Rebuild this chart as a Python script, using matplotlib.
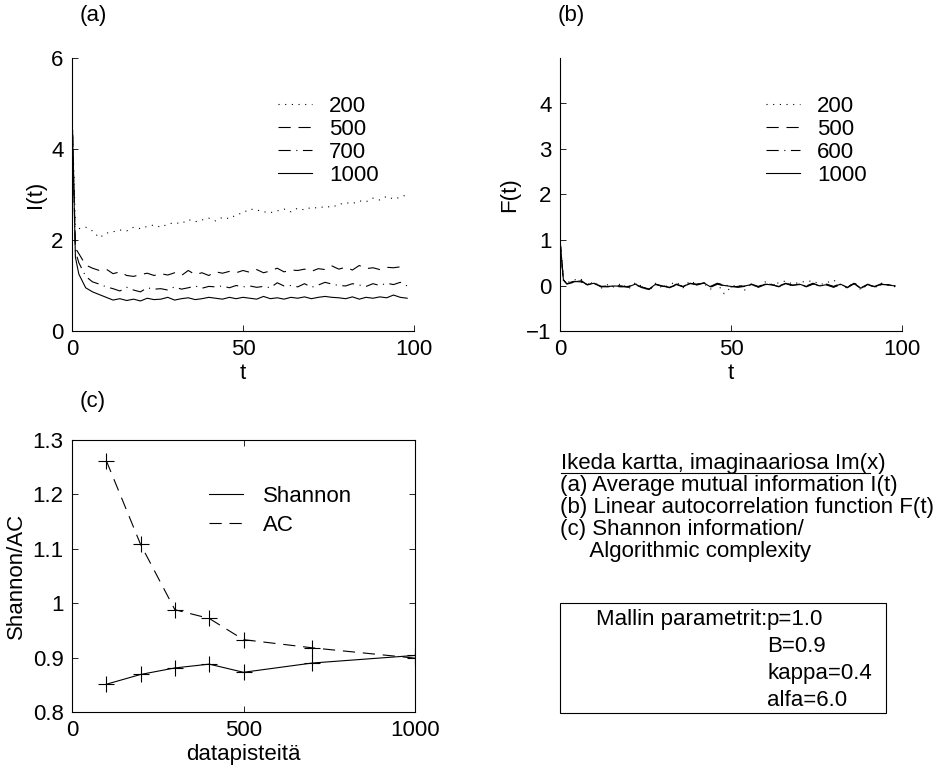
import matplotlib
matplotlib.use("Agg")
import matplotlib.pyplot as plt
from matplotlib.patches import Rectangle
from matplotlib.lines import Line2D

plt.rcParams["font.family"] = ["Liberation Sans", "DejaVu Sans"]
plt.rcParams["font.size"] = 16

# time axis of panels (a) and (b)
t = [0, 1] + list(range(2, 99, 2))

# (a) average mutual information I(t), by number of data points
ami_200 = [4.85, 2.32, 2.25, 2.28, 2.20, 2.05, 2.15, 2.18, 2.22, 2.20, 2.28, 2.25, 2.30,
           2.33, 2.28, 2.35, 2.38, 2.36, 2.45, 2.40, 2.44, 2.48, 2.42, 2.50, 2.47, 2.55,
           2.60, 2.68, 2.66, 2.62, 2.60, 2.64, 2.68, 2.62, 2.70, 2.66, 2.72, 2.70, 2.74,
           2.72, 2.78, 2.82, 2.80, 2.86, 2.84, 2.92, 2.88, 2.96, 2.90, 2.94, 3.00]
ami_500 = [4.85, 1.82, 1.70, 1.45, 1.38, 1.33, 1.36, 1.26, 1.30, 1.22, 1.20, 1.24, 1.27,
           1.22, 1.26, 1.23, 1.28, 1.22, 1.33, 1.24, 1.28, 1.22, 1.30, 1.27, 1.31, 1.28,
           1.33, 1.29, 1.35, 1.28, 1.32, 1.38, 1.30, 1.34, 1.33, 1.36, 1.31, 1.37, 1.35,
           1.43, 1.36, 1.40, 1.34, 1.44, 1.37, 1.39, 1.35, 1.40, 1.39, 1.41, 1.40]
ami_700 = [4.85, 1.75, 1.50, 1.20, 1.08, 1.03, 0.97, 0.93, 0.88, 0.96, 0.90, 0.86, 0.95,
           0.92, 0.93, 0.90, 0.97, 0.92, 0.95, 0.99, 0.94, 0.98, 0.97, 0.99, 0.95, 1.00,
           0.97, 0.99, 0.96, 0.98, 0.95, 1.06, 0.99, 1.00, 0.97, 1.04, 0.96, 1.01, 1.07,
           1.03, 1.00, 0.99, 1.04, 1.01, 0.98, 1.04, 1.00, 1.05, 1.02, 1.07, 0.99]
ami_1000 = [4.85, 1.62, 1.25, 0.95, 0.86, 0.80, 0.74, 0.68, 0.71, 0.67, 0.70, 0.66, 0.72,
            0.69, 0.70, 0.74, 0.68, 0.71, 0.73, 0.69, 0.71, 0.74, 0.72, 0.70, 0.74, 0.71,
            0.74, 0.72, 0.70, 0.76, 0.71, 0.73, 0.70, 0.74, 0.72, 0.75, 0.71, 0.74, 0.76,
            0.74, 0.73, 0.71, 0.75, 0.70, 0.74, 0.72, 0.75, 0.73, 0.79, 0.74, 0.72]

# (b) linear autocorrelation F(t)
acf_200 = [1.00, 0.10, 0.06, 0.12, 0.15, 0.00, 0.09, -0.06, 0.02, -0.04, 0.05, -0.08, 0.06,
           -0.02, -0.12, 0.05, -0.06, 0.02, 0.08, -0.05, 0.10, 0.03, 0.05, -0.08, 0.04, -0.18,
           -0.04, 0.03, -0.10, 0.04, -0.06, 0.08, 0.02, 0.06, 0.10, 0.03, 0.07, 0.09, 0.10,
           0.02, 0.06, 0.12, 0.01, -0.06, 0.08, -0.10, 0.03, -0.05, 0.05, 0.02, -0.03]
acf_500 = [1.00, 0.13, 0.03, 0.07, 0.12, 0.01, 0.06, -0.02, -0.03, 0.00, -0.01, -0.04, 0.02,
           -0.05, -0.07, 0.02, -0.02, -0.03, 0.03, -0.02, 0.06, 0.01, 0.05, -0.04, 0.03, -0.01,
           -0.03, -0.02, 0.00, 0.03, -0.02, 0.04, 0.02, -0.03, 0.05, 0.01, 0.02, -0.01, 0.05,
           -0.02, 0.03, -0.02, 0.04, -0.05, 0.04, -0.05, 0.03, -0.04, 0.02, 0.02, -0.02]
acf_600 = [1.00, 0.11, 0.05, 0.09, 0.08, 0.03, 0.04, -0.02, -0.01, -0.02, -0.03, -0.02, 0.04,
           -0.03, -0.09, 0.02, 0.00, -0.05, 0.01, -0.02, 0.04, 0.03, 0.07, -0.02, 0.05, 0.01,
           -0.01, -0.04, -0.02, 0.03, -0.04, 0.02, 0.03, -0.01, 0.05, -0.01, 0.04, -0.03, 0.03,
           0.00, 0.01, -0.04, 0.02, -0.03, 0.04, -0.07, 0.01, -0.02, 0.04, 0.00, -0.01]
acf_1000 = [1.00, 0.12, 0.04, 0.08, 0.10, 0.02, 0.05, -0.03, -0.02, -0.01, -0.02, -0.03, 0.03,
            -0.04, -0.08, 0.03, -0.01, -0.04, 0.02, -0.03, 0.05, 0.02, 0.06, -0.03, 0.04, 0.00,
            -0.02, -0.03, -0.01, 0.02, -0.03, 0.03, 0.01, -0.02, 0.04, 0.00, 0.03, -0.02, 0.04,
            -0.01, 0.02, -0.03, 0.03, -0.04, 0.05, -0.06, 0.02, -0.03, 0.03, 0.01, -0.01]

# (c) Shannon information / algorithmic complexity vs data points
n_points = [100, 200, 300, 400, 500, 700, 1000]
shannon = [0.851, 0.869, 0.881, 0.888, 0.873, 0.890, 0.904]
ac = [1.262, 1.108, 0.988, 0.972, 0.933, 0.918, 0.899]

W, H = 938, 770
fig = plt.figure(figsize=(W / 100, H / 100), dpi=100)


def fax(x0, y0, x1, y1):
    # pixel box (top-left origin) -> figure fraction rect
    return [x0 / W, 1 - y1 / H, (x1 - x0) / W, (y1 - y0) / H]


dot = (0, (1, 5))
dash = (0, (11, 7))
dashdot = (0, (11, 5, 1, 5))
lw = 0.8

ax_a = fig.add_axes(fax(72, 58, 414, 331))
ax_a.plot(t, ami_200, color="k", lw=lw, ls=dot, label="200")
ax_a.plot(t, ami_500, color="k", lw=lw, ls=dash, label="500")
ax_a.plot(t, ami_700, color="k", lw=lw, ls=dashdot, label="700")
ax_a.plot(t, ami_1000, color="k", lw=lw, ls="-", label="1000")
ax_a.set_xlim(0, 100)
ax_a.set_ylim(0, 6)
ax_a.set_yticks([0, 2, 4, 6])
ax_a.set_xticks([0, 50, 100])
ax_a.set_xlabel("t", labelpad=2)
ax_a.set_ylabel("I(t)", labelpad=4)

ax_b = fig.add_axes(fax(560, 58, 902, 331))
ax_b.plot(t, acf_200, color="k", lw=lw, ls=dot, label="200")
ax_b.plot(t, acf_500, color="k", lw=lw, ls=dash, label="500")
ax_b.plot(t, acf_600, color="k", lw=lw, ls=dashdot, label="600")
ax_b.plot(t, acf_1000, color="k", lw=lw, ls="-", label="1000")
ax_b.set_xlim(0, 100)
ax_b.set_ylim(-1, 5)
ax_b.set_yticks([-1, 0, 1, 2, 3, 4])
ax_b.set_xticks([0, 50, 100])
ax_b.set_xlabel("t", labelpad=2)
ax_b.set_ylabel("F(t)", labelpad=4)

for ax in (ax_a, ax_b):
    ax.spines["top"].set_visible(False)
    ax.spines["right"].set_visible(False)
    ax.tick_params(direction="in", length=4, width=0.6, pad=6)
    for s in ax.spines.values():
        s.set_linewidth(0.8)
    ax.legend(loc="upper left", bbox_to_anchor=(0.602, 0.861), frameon=False,
              handlelength=1.53, handletextpad=0.77, labelspacing=0.09,
              borderaxespad=0, borderpad=0)

ax_c = fig.add_axes(fax(72, 440, 415, 712))
ax_c.plot(n_points, shannon, color="k", lw=lw, ls="-", marker="+", ms=11, mew=0.8,
          label="Shannon")
ax_c.plot(n_points, ac, color="k", lw=lw, ls=dash, marker="+", ms=11, mew=0.8,
          label="AC")
ax_c.set_xlim(0, 1000)
ax_c.set_ylim(0.8, 1.3)
ax_c.set_xticks([0, 500, 1000])
ax_c.set_yticks([0.8, 0.9, 1.0, 1.1, 1.2, 1.3])
ax_c.set_yticklabels(["0.8", "0.9", "1", "1.1", "1.2", "1.3"])
ax_c.set_xlabel("datapisteitä", labelpad=2)
ax_c.set_ylabel("Shannon/AC", labelpad=4)
ax_c.tick_params(direction="in", length=4, width=0.6, pad=6, top=True, right=True)
for s in ax_c.spines.values():
    s.set_linewidth(0.8)
ax_c.legend(loc="upper left", bbox_to_anchor=(0.40, 0.831), frameon=False,
            handlelength=1.53, handletextpad=0.9, labelspacing=0.34,
            borderaxespad=0, borderpad=0)
for h in ax_c.get_legend().get_lines():
    h.set_marker("")

# panel letters
fig.text(80 / W, 1 - 15 / H, "(a)", ha="left", va="center")
fig.text(558 / W, 1 - 15 / H, "(b)", ha="left", va="center")
fig.text(80 / W, 1 - 402 / H, "(c)", ha="left", va="center")

# description block
title = fig.text(561 / W, 1 - 463 / H, "Ikeda kartta, imaginaariosa Im(x)", ha="left", va="center")
desc = ["(a) Average mutual information I(t)",
        "(b) Linear autocorrelation function F(t)",
        "(c) Shannon information/",
        "     Algorithmic complexity"]
for i, line in enumerate(desc):
    fig.text(560 / W, 1 - (485 + 22 * i) / H, line, ha="left", va="center")

fig.canvas.draw()
bb = title.get_window_extent()
fig.add_artist(Line2D([bb.x0 / W, (bb.x1 - 16) / W], [bb.y0 / H + 0.001, bb.y0 / H + 0.001],
                      color="k", lw=0.8, transform=fig.transFigure))

# parameter box
fig.add_artist(Rectangle((560 / W, 1 - 713 / H), 326 / W, 110 / H, fill=False,
                         ec="k", lw=0.8, transform=fig.transFigure))
fig.text(767 / W, 1 - 619 / H, "Mallin parametrit:", ha="right", va="center")
params = ["p=1.0", "B=0.9", "kappa=0.4", "alfa=6.0"]
for i, p in enumerate(params):
    fig.text(767 / W, 1 - (619 + 27 * i) / H, p, ha="left", va="center")

fig.savefig("out.png", dpi=100)
